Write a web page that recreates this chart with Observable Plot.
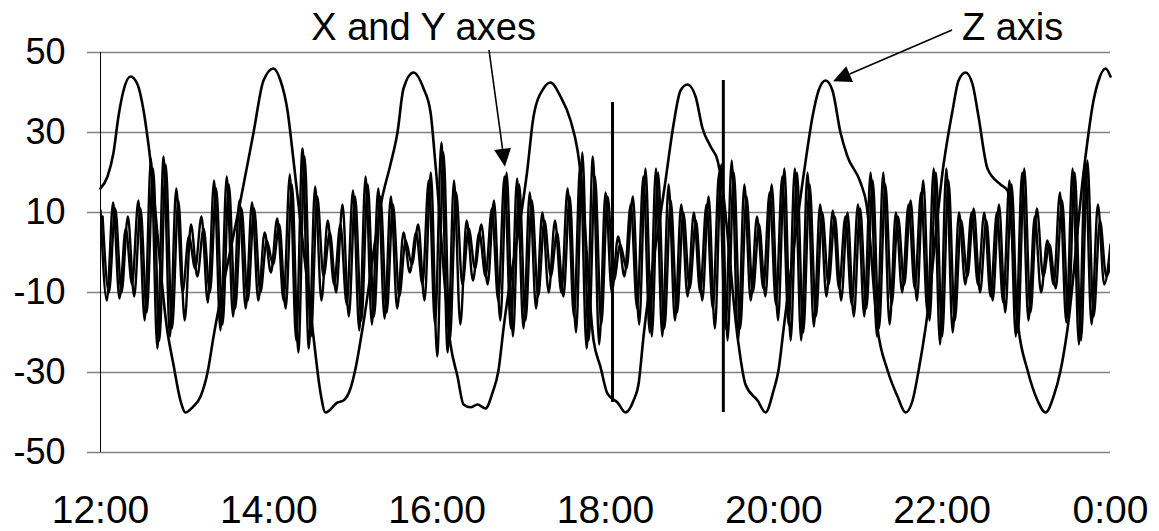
<!DOCTYPE html>
<html><head><meta charset="utf-8">
<script src="https://cdn.jsdelivr.net/npm/d3@7"></script>
<script src="https://cdn.jsdelivr.net/npm/@observablehq/plot@0.6"></script>
<style>
html,body{margin:0;padding:0;background:#fff;}
#chart{width:1159px;height:531px;}
</style></head><body><div id="chart"></div>
<script>
// ---- data (minutes after 12:00) ----
const zMinutes = [0,5,9.3,12.8,16.4,21.4,26.4,30.7,34.2,47.8,52,57,60.6,65.6,71.3,76.3,80.6,
  99.8,109.1,116.2,123.3,128.3,133.3,137.6,151.8,156.8,160.4,169,173.2,178.2,181.8,186.8,
  201,206.7,211.7,216,223.1,230.3,235.3,238.8,249.5,254.5,258.8,263.8,268.8,274.5,279.5,283.7,287.3,
  304.4,308.7,315.8,320.8,327.9,335.1,340.1,342.2,351.5,356.5,361.4,368.6,374.3,380,383.5,387.1,
  402.8,408.5,413.5,418.5,424.2,429.2,434.9,439.9,443.4,454.1,459.8,468.4,474.1,479.8,483.3,487,
  501.9,507.6,511.9,516.9,521.8,527.5,532.5,541.8,546.1,553.9,561.1,568.2,573.9,578.9,583.2,588.1,
  601,607.4,611.7,616.7,621.7,625.9,632.3,641.6,646.6,654.4,660.9,668,673.7,679.4,684.4,689.4,
  700.8,707.9,711.5,716.5,720];
const zValues = [16,19,25,34,40.5,44,42,35.5,27,-20,-28,-37,-40,-38.7,-36,-30,-21,
  13,30,43,46,43,35.5,23,-21,-35,-40,-37.5,-37,-34,-29,-19,
  14,22,30,41,45,41,35,22,-23,-31,-38,-38.7,-38,-39,-35,-29.5,-19,
  21,34,41,42.5,39,33,25.5,20,-22,-28.7,-35.3,-37.5,-40,-37,-33,-21,
  18,32,40.5,42,39,31,26.5,23,16,-21,-33,-37,-40,-34.5,-29.5,-19,
  21,34,40.5,43,40.5,30,24,17.5,12,-19,-29.5,-36,-40,-37,-29.5,-19,
  22,35.5,43,45,42,34,21,17,15.5,-19,-29.5,-37,-40,-36,-29.5,-19,
  20,38,43,46,44];

// X and Y axes: successive peaks and troughs, one every 4.5 minutes
const xyStepMinutes = 4.5;
const yLagMinutes = 1.5;
const xValues = [
  10.5,-12, 12.5,-11.5, 6,-8, 13,-17, 23.5,-24, 24,-21, 16,-10, 4,-4, 9,-12.5, 18,-19.5,
  19,-16, 13,-14, 12.5,-12, 5,-5, 8.5,-12, 19.5,-22, 26,-24, 16.5,-12, 8,-8, 7,-13,
  15.5,-19.5, 19,-18, 16,-16.5, 14,-14, 5,-5, 5,-8, 18,-18, 27.5,-25, 18,-18, 8,-7,
  5,-6, 11,-12, 19,-19, 18.5,-19, 15,-14, 10,-10, 8,-10, 16,-16, 22,-24, 24,-23,
  15,-10, 4,-6, 12,-14, 19,-20, 21,-21, 17,-17, 12,-11, 10,-10, 12,-14, 20,-19,
  23,-22, 17,-12, 9,-9, 15,-13, 19,-18, 21,-22, 20,-18.5, 12,-11, 10.5,-9, 9,-13,
  12,-16, 20,-21, 20,-18, 10,-10, 12,-9, 15,-15, 21,-23, 21,-20, 10,-8, 10,-8,
  10,-11, 10,-12.5, 18,-21, 20,-17, 9,-10, 3,-8, 15,-17.5, 21,-23, 22,-18, 12,-8,
  2];
const yValues = [
  9,-10, 11,-10, 9,-11, 11,-15, 21,-22, 22,-19, 13,-17, 7,-6, 6,-10, 16,-18,
  17,-14, 11,-12, 11,-10, 3,-3, 7,-14, 17,-25, 24,-21, 14,-6, 5,-10, 12,-16,
  14,-17, 17,-16, 14,-15, 12,-11, 3,-3, 7,-12, 20,-26, 25,-22, 15,-8, 6,-4,
  7,-8, 13,-17, 20,-21, 17,-17, 13,-11, 8,-6, 5,-11, 14,-20, 25,-22, 19,-18,
  14,-7, 2,-4, 14,-18, 21,-21, 20,-19, 13,-15, 10,-9, 8,-12, 14,-19, 22,-22,
  20,-19, 14,-10, 7,-11, 17,-17, 21,-22, 20,-20, 17,-16, 10,-8, 9,-12, 10,-16,
  11,-14, 18,-19, 17,-13, 9,-8, 13,-12, 18,-17, 20,-21, 18,-17, 8,-6, 11,-10,
  8,-12, 12,-15, 17,-20, 21,-15, 11,-6, 2,-9, 13,-16, 20,-22, 23,-16, 8,-6,
  0];

// two glitches
const spikeMinutes = [365, 444];
const spikeTop = [37.5, 43];
const spikeBottom = [-37.5, -40];

const yTicks = [-50, -30, -10, 10, 30, 50];
const xTickMinutes = [0, 120, 240, 360, 480, 600, 720];

const labelText = ["X and Y axes", "Z axis"];
const labelMinutes = [230.3, 650.2];
const labelValues = [56.1, 56.1];
const arrowFromMinutes = [277.3, 607.4];
const arrowFromValues = [50.5, 55.5];
const arrowToMinutes = [288.7, 522.6];
const arrowToValues = [21.3, 42.7];

// ---- build ----
const base = Date.UTC(2000, 0, 1, 12, 0);
const t = m => new Date(base + m * 60000);

const zRows = zMinutes.map((m, i) => ({t: t(m), v: zValues[i]}));
const xRows = xValues.map((v, i) => ({t: t(i * xyStepMinutes), v}));
const yRows = yValues.map((v, i) => ({t: t(i * xyStepMinutes + yLagMinutes), v}));
const spikes = spikeMinutes.map((m, i) => ({t: t(m), y1: spikeTop[i], y2: spikeBottom[i]}));
const labels = labelText.map((s, i) => ({t: t(labelMinutes[i]), v: labelValues[i], s}));

const fmt = d3.utcFormat("%-H:%M");

const plot = Plot.plot({
  width: 1159,
  height: 531,
  marginTop: 52,
  marginBottom: 79,
  marginLeft: 100,
  marginRight: 49,
  style: {fontFamily: "'Liberation Sans', Arial, sans-serif", fontSize: "36px", background: "white", color: "black"},
  x: {type: "utc", domain: [t(0), t(720)], ticks: xTickMinutes.map(t), tickFormat: fmt, tickSize: 0, tickPadding: 43, label: null},
  y: {domain: [-50, 50], ticks: yTicks, tickFormat: d => String(d), tickSize: 13, tickPadding: 22, label: null},
  marks: [
    Plot.ruleY(yTicks, {stroke: "#808080", strokeWidth: 1.5}),
    Plot.ruleX([t(0)], {stroke: "black", strokeWidth: 1}),
    Plot.line(yRows, {x: "t", y: "v", curve: "monotone-x", stroke: "black", strokeWidth: 2.4, clip: true}),
    Plot.line(xRows, {x: "t", y: "v", curve: "monotone-x", stroke: "black", strokeWidth: 2.4, clip: true}),
    Plot.ruleX(spikes, {x: "t", y1: "y1", y2: "y2", stroke: "black", strokeWidth: 3}),
    Plot.line(zRows, {x: "t", y: "v", curve: "monotone-x", stroke: "black", strokeWidth: 2.6}),
    Plot.text(labels, {x: "t", y: "v", text: "s", fontSize: 38, lineAnchor: "middle", fill: "black"})
  ]
});

const svg = d3.select(plot);
svg.selectAll('[aria-label^="x-axis"] text').style("font-size", "39px");
svg.selectAll('[aria-label^="y-axis"] text').style("font-size", "36px");
svg.selectAll('[aria-label^="y-axis"] line, [aria-label^="y-axis"] path').attr("stroke", "#808080").attr("stroke-width", 1.5);

// arrows, positioned through the plot's scales
const xs = plot.scale("x"), ys = plot.scale("y");
const g = svg.append("g").attr("aria-label", "arrows");
arrowFromMinutes.forEach((m, i) => {
  const x1 = xs.apply(t(m)), y1 = ys.apply(arrowFromValues[i]);
  const x2 = xs.apply(t(arrowToMinutes[i])), y2 = ys.apply(arrowToValues[i]);
  const a = Math.atan2(y2 - y1, x2 - x1);
  const L = 18, W = 8.5;
  const bx = x2 - L * Math.cos(a), by = y2 - L * Math.sin(a);
  g.append("line").attr("x1", x1).attr("y1", y1).attr("x2", bx).attr("y2", by)
    .attr("stroke", "black").attr("stroke-width", 1.6);
  g.append("path")
    .attr("d", `M${x2},${y2}L${bx + W * Math.sin(a)},${by - W * Math.cos(a)}L${bx - W * Math.sin(a)},${by + W * Math.cos(a)}Z`)
    .attr("fill", "black");
});

document.getElementById("chart").appendChild(plot);
</script>
</body></html>
